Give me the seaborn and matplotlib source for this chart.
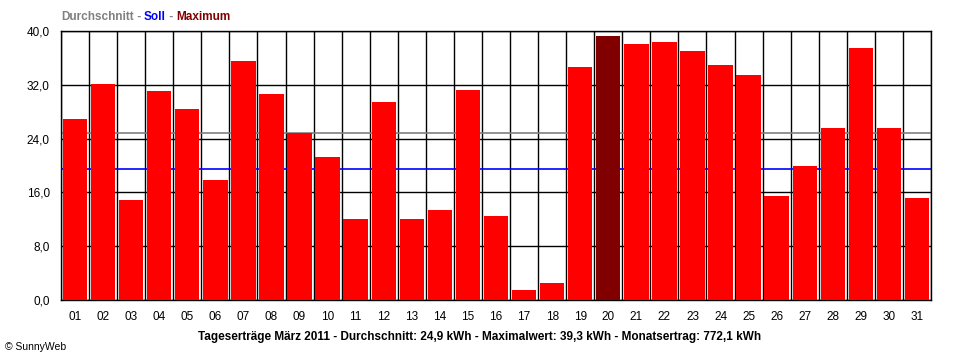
import numpy as np
import matplotlib
matplotlib.use("Agg")
import matplotlib.pyplot as plt
import seaborn as sns

# Tageserträge März 2011 (kWh)
DAYS = [f"{d:02d}" for d in range(1, 32)]
YIELD_KWH = [
    26.9, 32.1, 14.8, 31.1, 28.4, 17.9, 35.5, 30.7, 24.9, 21.2,
    12.1, 29.4, 12.1, 13.4, 31.3, 12.5, 1.5, 2.5, 34.6, 39.3,
    38.1, 38.4, 37.0, 34.9, 33.4, 15.4, 19.9, 25.6, 37.5, 25.6,
    15.2,
]
AVERAGE = 24.9
TARGET = 19.5  # Soll
Y_TICKS = [0, 8, 16, 24, 32, 40]

RED = "#ff0000"
DARK_RED = "#800000"


def main():
    sns.set_style("white")
    plt.rcParams["font.family"] = ["Liberation Sans", "DejaVu Sans"]
    for key in ["text.color", "xtick.color", "ytick.color", "axes.labelcolor"]:
        plt.rcParams[key] = "black"

    fig = plt.figure(figsize=(9.6, 3.6), dpi=100)
    ax = fig.add_axes([61 / 960, 60 / 360, 870 / 960, 269 / 360])

    max_day = DAYS[int(np.argmax(YIELD_KWH))]
    palette = {d: (DARK_RED if d == max_day else RED) for d in DAYS}

    sns.barplot(
        x=DAYS, y=YIELD_KWH, hue=DAYS, palette=palette, legend=False,
        width=0.87, saturation=1, ax=ax, zorder=3, linewidth=0,
    )

    # Durchschnitt / Soll lines behind the bars
    ax.axhline(AVERAGE, color="#808080", lw=1.2, zorder=2)
    ax.axhline(TARGET, color="#0000ff", lw=1.2, zorder=2)

    ax.set_xlim(-0.5, len(DAYS) - 0.5)
    ax.set_ylim(0, 40)
    ax.set_yticks(Y_TICKS)
    ax.set_yticklabels([f"{v:.1f}".replace(".", ",") for v in Y_TICKS], fontsize=8.5)
    ax.set_xticks(range(len(DAYS)))
    ax.set_xticklabels(DAYS, fontsize=8.5)
    ax.set_xticks(np.arange(-0.5, len(DAYS), 1), minor=True)
    ax.tick_params(axis="x", which="major", length=0, pad=8)
    ax.tick_params(axis="x", which="minor", length=5, width=1, color="black", direction="out")
    ax.tick_params(axis="y", length=5, width=1, color="black", direction="out", pad=3)
    ax.set_xlabel("")
    ax.set_ylabel("")

    ax.grid(False)
    ax.grid(axis="x", which="minor", color="black", lw=1, zorder=1)
    ax.grid(axis="y", which="major", color="black", lw=1, zorder=1)
    ax.set_axisbelow(True)
    for s in ax.spines.values():
        s.set_visible(True)
        s.set_color("black")
        s.set_linewidth(1)

    # legend line at the top, coloured words chained one after another
    t1 = fig.text(61 / 960, 1 - 17 / 360, "Durchschnitt", color="#808080",
                  fontsize=8.5, fontweight="bold", va="center")
    parts = [(" - ", "#808080"), ("Soll", "#0000ff"), (" - ", "#808080"),
             ("Maximum", DARK_RED)]
    prev = t1
    for txt, col in parts:
        prev = ax.annotate(txt, xy=(1, 0), xycoords=prev, va="bottom",
                           color=col, fontsize=8.5, fontweight="bold")

    fig.text(0.5, 1 - 337 / 360,
             "Tageserträge März 2011 - Durchschnitt: 24,9 kWh - Maximalwert: 39,3 kWh - Monatsertrag: 772,1 kWh",
             ha="center", va="center", fontsize=8.5, fontweight="bold")
    fig.text(5 / 960, 1 - 347 / 360, "© SunnyWeb", ha="left", va="center", fontsize=7.5)

    fig.savefig("out.png", dpi=100)
    plt.close(fig)


if __name__ == "__main__":
    main()
